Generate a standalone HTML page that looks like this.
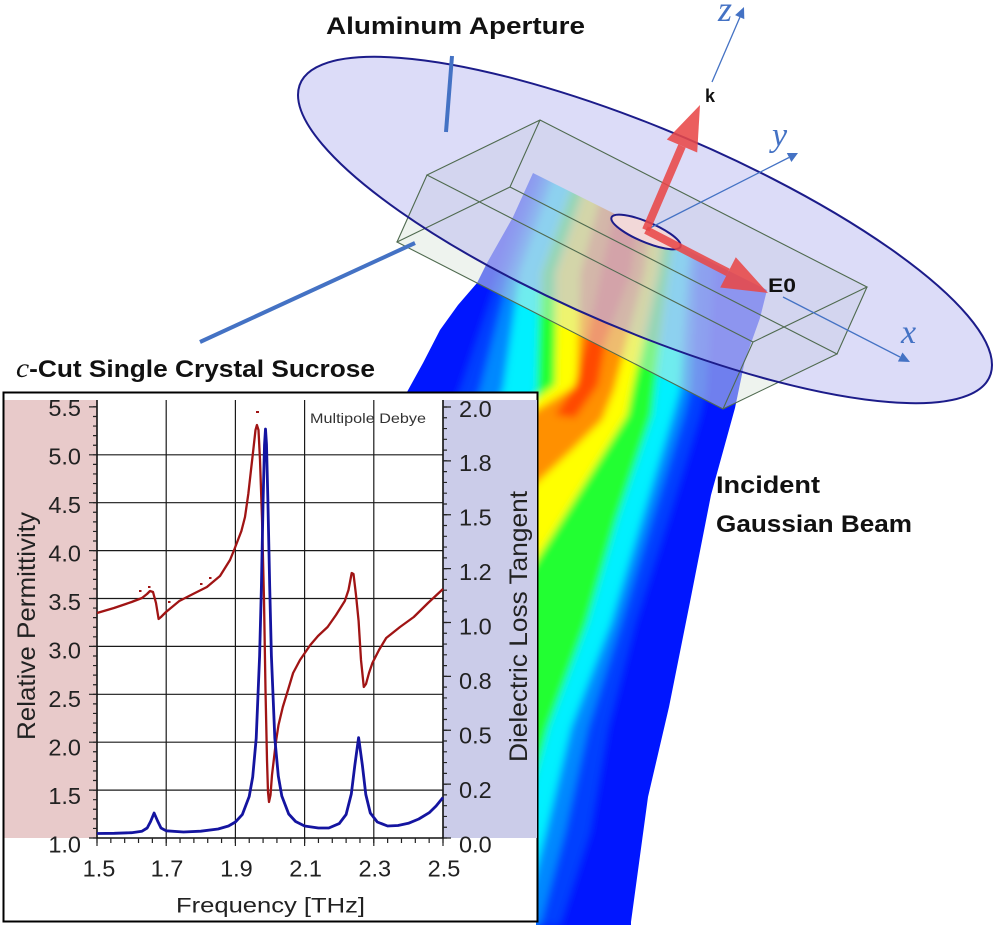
<!DOCTYPE html>
<html>
<head>
<meta charset="utf-8">
<style>
html,body{margin:0;padding:0;background:#fff;}
svg{display:block;}
</style>
</head>
<body>
<svg xmlns="http://www.w3.org/2000/svg" width="1000" height="925" viewBox="0 0 1000 925">
<defs>
  <clipPath id="beamClip">
    <polygon points="533,173 767,290 760,318 745,360 735,408 711,495 690,602 669,707 648,797 631,922 631,925 536,925 536,395 407,392 423,363 440,330 458,305 477,283 487,263 513,217"/>
  </clipPath>
  <filter id="bl" x="-20%" y="-20%" width="140%" height="140%">
    <feGaussianBlur stdDeviation="4"/>
  </filter>
</defs>

<rect x="0" y="0" width="1000" height="925" fill="#ffffff"/>

<!-- Gaussian beam -->
<g clip-path="url(#beamClip)">
  <g filter="url(#bl)">
    <rect x="350" y="150" width="450" height="800" fill="#0018ff"/>
    <polygon fill="#0040ff" points="540,160 500,273 460,390 380,560 300,925 560,925 590,832 608,728 635,623 668,519 700,415 705,390 712,273 725,160"/>
    <polygon fill="#0088ff" points="550,160 510,273 480,390 400,560 330,925 540,925 565,832 588,728 621,623 652,519 684,415 690,390 695,273 708,160"/>
    <polygon fill="#00f0ff" points="560,160 520,273 503,390 420,560 350,925 522,925 546,832 571,728 611,623 642,519 673,415 680,390 687,273 700,160"/>
    <polygon fill="#20ff30" points="580,160 540,273 537,390 450,560 380,880 500,880 520,832 548,728 587,623 617,519 652,415 655,390 670,273 685,160"/>
    <polygon fill="#ffff00" points="595,160 557,273 555,385 480,440 420,560 500,620 530,570 562,519 627,415 632,390 657,273 672,160"/>
    <polygon fill="#ff9000" points="610,160 580,273 577,385 520,420 450,480 480,520 510,510 538,482 572,450 602,420 614,390 645,273 660,160"/>
    <polygon fill="#ff4800" points="625,160 600,273 585,345 575,385 555,415 575,418 598,385 605,345 632,273 648,160"/>
  </g>
</g>

<!-- crystal box fill -->
<polygon points="540,120 867,287 837,354 723,409 397,242 427,175" fill="rgb(221,231,221)" fill-opacity="0.5"/>

<!-- aperture ellipse fill -->
<circle cx="0" cy="0" r="1" transform="matrix(347,135,0,108.5,645,230)" fill="rgb(177,177,239)" fill-opacity="0.45"/>

<!-- crystal box edges -->
<path d="M540,120 L867,287 L753,342 L427,175 Z M510,187 L837,354 L723,409 L397,242 Z M540,120 L510,187 M867,287 L837,354 M753,342 L723,409 M427,175 L397,242" fill="none" stroke="#4f6a4f" stroke-width="1.1"/>

<!-- aperture ellipse outline -->
<circle cx="0" cy="0" r="1" transform="matrix(347,135,0,108.5,645,230)" fill="none" stroke="#1c1c8a" stroke-width="2" vector-effect="non-scaling-stroke"/>

<!-- aperture hole -->
<circle cx="0" cy="0" r="1" transform="matrix(34.7,13.5,0,10.85,646,232)" fill="#f2d8d8" stroke="#1c1c8a" stroke-width="2" vector-effect="non-scaling-stroke"/>

<!-- coordinate axes (blue) -->
<g stroke="#4472c4" stroke-width="1.3" fill="none">
  <line x1="646" y1="230" x2="789" y2="157.5"/>
  <line x1="783" y1="297" x2="900" y2="357"/>
  <line x1="712" y1="82" x2="740" y2="17"/>
</g>
<g fill="#4472c4">
  <polygon points="798,153 791.4,162 786.8,153"/>
  <polygon points="910,362 897.9,361.5 902.5,352.5"/>
  <polygon points="744,7 744.3,19.1 735.1,15.1"/>
</g>
<g font-family="Liberation Serif, serif" font-style="italic" fill="#4472c4">
  <text x="718" y="21" font-size="36">z</text>
  <text x="772" y="146" font-size="34">y</text>
  <text x="901" y="343" font-size="34">x</text>
</g>

<!-- red field arrows -->
<g fill="rgb(232,72,72)" fill-opacity="0.88">
  <polygon points="642.3,228.4 649.7,231.6 685.7,147.6 678.3,144.4"/>
  <polygon points="700,105 697.2,152.5 666.8,139.5"/>
  <polygon points="644.2,233.6 647.8,226.4 729.8,268.8 726.2,276"/>
  <polygon points="768,293 720.2,287.5 735.8,257.3"/>
</g>
<text x="705" y="102" font-family="Liberation Sans, sans-serif" font-weight="bold" font-size="18" fill="#111">k</text>
<text x="768" y="292" font-family="Liberation Sans, sans-serif" font-weight="bold" font-size="19" fill="#111" textLength="28" lengthAdjust="spacingAndGlyphs">E0</text>

<!-- pointer lines -->
<g stroke="#4472c4" stroke-width="4">
  <line x1="452" y1="56" x2="446" y2="132"/>
  <line x1="415" y1="243" x2="200" y2="342"/>
</g>

<!-- labels -->
<g font-family="Liberation Sans, sans-serif" font-weight="bold" font-size="24" fill="#111">
  <text x="326" y="34" textLength="259" lengthAdjust="spacingAndGlyphs">Aluminum Aperture</text>
  <text x="16" y="377" textLength="359" lengthAdjust="spacingAndGlyphs"><tspan font-family="Liberation Serif, serif" font-style="italic" font-weight="normal" font-size="27">c</tspan>-Cut Single Crystal Sucrose</text>
  <text x="716" y="493" textLength="104" lengthAdjust="spacingAndGlyphs">Incident</text>
  <text x="716" y="532" textLength="196" lengthAdjust="spacingAndGlyphs">Gaussian Beam</text>
</g>

<!-- ================= CHART ================= -->
<rect x="3.5" y="392.5" width="534" height="529" fill="#ffffff" stroke="#000" stroke-width="2"/>
<rect x="4.5" y="400" width="92.5" height="438" fill="#e8caca"/>
<rect x="443" y="400" width="94" height="438" fill="#cbcce9"/>

<!-- grid -->
<g stroke="#1a1a1a" stroke-width="1.2">
  <line x1="97" y1="790.1" x2="443" y2="790.1"/>
  <line x1="97" y1="742.2" x2="443" y2="742.2"/>
  <line x1="97" y1="694.3" x2="443" y2="694.3"/>
  <line x1="97" y1="646.4" x2="443" y2="646.4"/>
  <line x1="97" y1="598.5" x2="443" y2="598.5"/>
  <line x1="97" y1="550.6" x2="443" y2="550.6"/>
  <line x1="97" y1="502.7" x2="443" y2="502.7"/>
  <line x1="97" y1="454.8" x2="443" y2="454.8"/>
  <line x1="166.2" y1="400" x2="166.2" y2="838"/>
  <line x1="235.4" y1="400" x2="235.4" y2="838"/>
  <line x1="304.6" y1="400" x2="304.6" y2="838"/>
  <line x1="373.8" y1="400" x2="373.8" y2="838"/>
</g>

<!-- axes -->
<g stroke="#111" stroke-width="1.6">
  <line x1="97" y1="400" x2="97" y2="838.8"/>
  <line x1="443" y1="400" x2="443" y2="838.8"/>
  <line x1="96.2" y1="838" x2="443.8" y2="838"/>
</g>

<!-- ticks via dash arrays -->
<g stroke="#222" fill="none">
  <line x1="95" y1="838.6" x2="95" y2="400" stroke-width="4" stroke-dasharray="1.2 8.38"/>
  <line x1="93" y1="838.6" x2="93" y2="400" stroke-width="8" stroke-dasharray="1.2 46.7"/>
  <line x1="445" y1="838.6" x2="445" y2="400" stroke-width="4" stroke-dasharray="1.2 9.575"/>
  <line x1="447" y1="838.6" x2="447" y2="400" stroke-width="8" stroke-dasharray="1.2 52.675"/>
  <line x1="96.4" y1="840.5" x2="444" y2="840.5" stroke-width="5" stroke-dasharray="1.2 12.64"/>
  <line x1="96.4" y1="842" x2="444" y2="842" stroke-width="8" stroke-dasharray="1.2 68"/>
</g>

<!-- curves -->
<polyline fill="none" stroke="#a01414" stroke-width="2.3" stroke-linejoin="round" points="97,613 114,608 131.6,602 142,598 147,594 150,591 153,592 156,603 158.6,619 161,617 166,612 179.3,601 193,594 206.9,587 220,576 230,560 234.5,549 241.4,531 245,517 248.3,494 251,470 253.4,449 255.5,430 256.9,425 258.5,430 260,460 262,518 264,600 265.5,690 267,760 268,792 269,802 270.5,795 272,775 275.9,742 278.5,725 282.8,707 288,690 293.1,673 300,660 310.3,645 318,636 327.6,627 336,615 344.8,601 348.5,590 351.7,573 353.5,574 356,595 358.6,621 361,660 363.8,687 366,684 369,673 372.4,663 379,650 386.2,638 400,627 413.8,617 428,603 443,589"/>
<g fill="#a01414">
  <rect x="256" y="411" width="3" height="2"/>
  <rect x="148" y="586" width="2.5" height="2"/>
  <rect x="139" y="590" width="2.5" height="2"/>
  <rect x="168" y="601" width="2.5" height="2"/>
  <rect x="200" y="583" width="2.5" height="2"/>
  <rect x="209" y="577" width="2.5" height="2"/>
</g>
<polyline fill="none" stroke="#1414a0" stroke-width="2.8" stroke-linejoin="round" points="97,833.5 114.3,833.3 131.6,832.7 142,831.2 147.2,828 150.6,821.5 154.1,813 157.6,821 161,828 166.2,830.8 183.5,832 200.8,831.2 218.1,829 228.5,826 235.4,822 242.3,814.6 249.2,796.5 252.7,777 256.2,738.4 259.6,656 261.4,587 263.1,501 264.5,445 265.5,429 266.5,444.5 267.9,501 269.7,586.5 271.4,656 274.8,738 278.3,776 281.8,796 288.7,814 295.6,821.5 304.6,826 318.4,828 328.8,828 339.2,823.6 346.1,814.5 351.3,794 354.8,765.5 358.6,737.6 362.4,765.4 365.8,794.5 370.3,813 377.3,822 387.6,826 398,825.5 408.4,823.3 418.8,819 429.2,812.7 436.1,806 443,797.5"/>

<!-- tick labels -->
<g font-family="Liberation Sans, Arial, sans-serif" font-size="23.5" fill="#222">
  <g text-anchor="end">
    <text x="81" y="415.8">5.5</text>
    <text x="81" y="464.3">5.0</text>
    <text x="81" y="512.8">4.5</text>
    <text x="81" y="561.3">4.0</text>
    <text x="81" y="609.8">3.5</text>
    <text x="81" y="658.3">3.0</text>
    <text x="81" y="706.8">2.5</text>
    <text x="81" y="755.3">2.0</text>
    <text x="81" y="803.8">1.5</text>
    <text x="81" y="852.3">1.0</text>
  </g>
  <g>
    <text x="459" y="416.8">2.0</text>
    <text x="459" y="471.2">1.8</text>
    <text x="459" y="525.7">1.5</text>
    <text x="459" y="580.1">1.2</text>
    <text x="459" y="634.6">1.0</text>
    <text x="459" y="689">0.8</text>
    <text x="459" y="743.4">0.5</text>
    <text x="459" y="797.9">0.2</text>
    <text x="459" y="852.3">0.0</text>
  </g>
  <g text-anchor="middle">
    <text x="99" y="876.3">1.5</text>
    <text x="167" y="876.3">1.7</text>
    <text x="236.4" y="876.3">1.9</text>
    <text x="305.6" y="876.3">2.1</text>
    <text x="374.8" y="876.3">2.3</text>
    <text x="444" y="876.3">2.5</text>
  </g>
</g>

<!-- axis titles -->
<g font-family="Liberation Sans, Arial, sans-serif" fill="#222">
  <text x="176" y="912.5" font-size="21" textLength="189" lengthAdjust="spacingAndGlyphs">Frequency [THz]</text>
  <text transform="translate(35,740) rotate(-90)" font-size="25" textLength="228" lengthAdjust="spacingAndGlyphs">Relative Permittivity</text>
  <text transform="translate(527,762) rotate(-90)" font-size="25" textLength="271" lengthAdjust="spacingAndGlyphs">Dielectric Loss Tangent</text>
  <text x="310" y="423" font-size="14" fill="#333" textLength="116" lengthAdjust="spacingAndGlyphs">Multipole Debye</text>
</g>
</svg>
</body>
</html>
